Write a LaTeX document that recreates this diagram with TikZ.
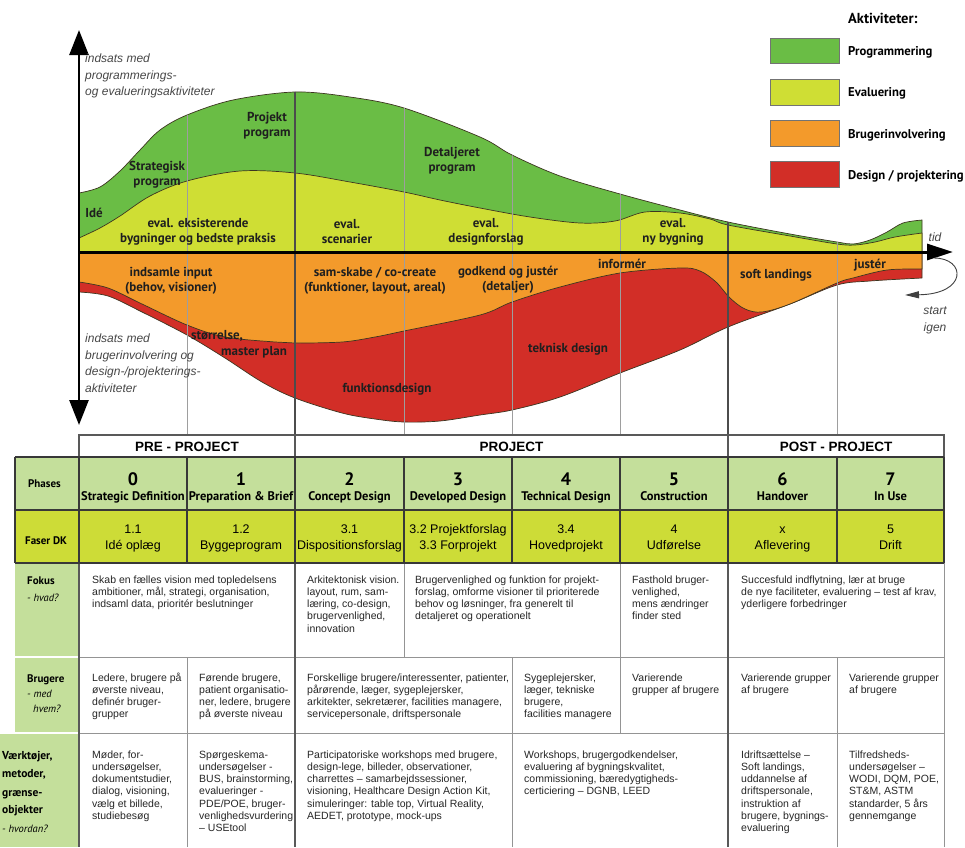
\documentclass[tikz,border=0pt]{standalone}
\usepackage{fontspec}
\setmainfont{Liberation Sans}
\newfontfamily\myriadlike{PT Sans}
\usetikzlibrary{arrows.meta}

\definecolor{progc}{HTML}{6ABD45}
\definecolor{evalc}{HTML}{CFDE34}
\definecolor{userc}{HTML}{F39A2B}
\definecolor{desc}{HTML}{D22E27}
\definecolor{phasec}{HTML}{C4DF9B}
\definecolor{faserc}{HTML}{CDDC37}
\definecolor{edgec}{HTML}{3C3520}

\newcommand\bodyfnt{\fontsize{10.5}{12.2}\selectfont}
\newcommand\lblfnt{\myriadlike\bfseries\fontsize{13}{15}\selectfont}

\tikzset{
  band/.style={draw=edgec, line width=0.7pt, line join=round},
  curvelbl/.style={font=\lblfnt, align=center, inner sep=0pt, text=black!88},
  axislbl/.style={font=\itshape\fontsize{12}{16.5}\selectfont, align=left, inner sep=0pt, anchor=north west, text=black!72},
  legbox/.style={draw=black!55, line width=0.6pt},
  leglbl/.style={font=\myriadlike\bfseries\fontsize{12.7}{14}\selectfont, anchor=base west, inner sep=0pt},
  plight/.style={draw=black!38, line width=1pt},
  pdark/.style={draw=black!70, line width=1.2pt},
  gridl/.style={draw=black!42, line width=0.9pt},
  gridd/.style={draw=black!78, line width=1.1pt},
  body/.style={anchor=north west, inner sep=0pt, align=left, font=\bodyfnt, text=black!85},
  rowhead/.style={anchor=base west, inner sep=0pt, font=\myriadlike\bfseries\fontsize{11}{12}\selectfont},
  rowsub/.style={anchor=base west, inner sep=0pt, font=\myriadlike\itshape\fontsize{10.5}{12}\selectfont},
  phnum/.style={anchor=base, inner sep=0pt, font=\myriadlike\bfseries\fontsize{18}{20}\selectfont},
  phname/.style={anchor=base, inner sep=0pt, font=\myriadlike\bfseries\fontsize{12.5}{14}\selectfont},
  dk/.style={anchor=base, inner sep=0pt, font=\fontsize{12.5}{14}\selectfont},
  stage/.style={anchor=base, inner sep=0pt, font=\bfseries\fontsize{13.5}{15}\selectfont},
}

\begin{document}
\begin{tikzpicture}[x=1pt,y=-1pt]
\useasboundingbox (0,0) rectangle (965,847);
\fill[white] (0,0) rectangle (965,847);

% ---------- activity bands ----------
% programming (top band)
\filldraw[band, fill=progc] plot[smooth, tension=0.55] coordinates {(79,193) (100,187) (120,171) (140,150) (160,130) (187,115) (233,100) (295,92) (350,97) (404,108) (480,137) (512,155) (560,176) (620,194) (680,210) (728,222) (790,234) (837,242) (853,244) (870,240) (887,232) (903,223) (922,220)} -- (922,252) -- (79,252) -- cycle;
% evaluation
\filldraw[band, fill=evalc] plot[smooth, tension=0.55] coordinates {(79,238) (100,228) (120,216) (150,196) (187,181) (240,171) (295,173) (350,182) (404,192) (440,200) (480,208) (530,217) (580,223) (615,221) (645,212) (680,213) (710,219) (728,225) (790,236) (837,244) (855,245) (875,242) (895,237) (922,233)} -- (922,252) -- (79,252) -- cycle;
% design
\filldraw[band, fill=desc] (79,252) -- plot[smooth, tension=0.55] coordinates {(79,292) (108,296) (142,312) (187,335) (225,358) (262,382) (295,398) (342,413) (375,419) (404,422) (440,421) (480,415) (512,410) (560,397) (620,373) (680,350) (728,327) (790,304) (837,285) (870,281) (922,278)} -- (922,252) -- cycle;
% user involvement
\filldraw[band, fill=userc] (79,252) -- plot[smooth, tension=0.55] coordinates {(79,282) (108,288) (142,304) (187,325) (225,337) (275,342) (295,343) (342,342) (375,337) (404,331) (480,315) (512,302) (560,287) (620,273) (680,268) (700,271) (716,282) (730,298) (745,309) (762,312) (790,304) (837,283) (853,278) (887,270) (922,269)} -- (922,252) -- cycle;

% ---------- phase separators below the top curve ----------
\begin{scope}
  \clip plot[smooth, tension=0.55] coordinates {(79,193) (100,187) (120,171) (140,150) (160,130) (187,115) (233,100) (295,92) (350,97) (404,108) (480,137) (512,155) (560,176) (620,194) (680,210) (728,222) (790,234) (837,242) (853,244) (870,240) (887,232) (903,223) (922,220)} -- (960,220) -- (960,436) -- (79,436) -- cycle;
  \foreach \px in {187,404,512,620,837} \draw[plight] (\px,80) -- (\px,436);
  \foreach \px in {295,728} \draw[pdark] (\px,80) -- (\px,436);
\end{scope}

% ---------- axes ----------
\coordinate (ytop) at (79,30);
\coordinate (ybot) at (79,425);
\coordinate (xorg) at (79,252);
\coordinate (xend) at (953,252);
\draw[line width=2.6pt, {Triangle[width=19pt,length=25pt]}-{Triangle[width=19pt,length=25pt]}] (ybot) -- (ytop);
\draw[line width=3pt, -{Triangle[width=16pt,length=26pt]}] (xorg) -- (xend);
\coordinate (restart0) at (934,258);
\coordinate (restart1) at (905,295);
\draw[line width=0.9pt, black!75, -{Triangle[width=7pt,length=14pt]}] (restart0) .. controls (966,258) and (968,294) .. (restart1);

\node[axislbl] (yup) at (85,54) {indsats med\\programmerings-\\og evalueringsaktiviteter};
\node[axislbl] (ydown) at (85,334) {indsats med\\brugerinvolvering og\\design-/projekterings-\\aktiviteter};
\node[font=\itshape\fontsize{12}{14}\selectfont, text=black!72, inner sep=0pt, anchor=base] (tid) at (935,241) {tid};
\node[font=\itshape\fontsize{12}{16.5}\selectfont, text=black!72, inner sep=0pt, align=center, anchor=north] (igen) at (935,307) {start\\igen};

% ---------- band labels ----------
\node[curvelbl] (idea) at (94,213) {Idé};
\node[curvelbl] (strat) at (157,175) {Strategisk\\program};
\node[curvelbl] (projprog) at (267,126) {Projekt\\program};
\node[curvelbl] (detprog) at (452,161) {Detaljeret\\program};
\node[curvelbl] (evalex) at (198,232) {eval. eksisterende\\bygninger og bedste praksis};
\node[curvelbl] (evalsc) at (347,232) {eval.\\scenarier};
\node[curvelbl] (evalds) at (486,232) {eval.\\designforslag};
\node[curvelbl] (evalny) at (673,232) {eval.\\ny bygning};
\node[curvelbl] (input) at (171,281) {indsamle input\\(behov, visioner)};
\node[curvelbl] (cocreate) at (375,281) {sam-skabe / co-create\\(funktioner, layout, areal)};
\node[curvelbl] (approve) at (508,280) {godkend og justér\\(detaljer)};
\node[curvelbl] (inform) at (622,264) {informér};
\node[curvelbl] (soft) at (776,275) {soft landings};
\node[curvelbl] (adjust) at (870,265) {justér};
\node[curvelbl] (size) at (217,336) {størrelse,};
\node[curvelbl] (master) at (254,352) {master plan};
\node[curvelbl] (fdesign) at (387,389) {funktionsdesign};
\node[curvelbl] (tdesign) at (568,349) {teknisk design};

% ---------- legend ----------
\node[font=\myriadlike\bfseries\fontsize{14.5}{16}\selectfont, anchor=base west, inner sep=0pt] (legtitle) at (848,23) {Aktiviteter:};
\draw[legbox, fill=progc] (770,38) rectangle (839,63);
\draw[legbox, fill=evalc] (770,79) rectangle (839,105);
\draw[legbox, fill=userc] (770,120) rectangle (839,146);
\draw[legbox, fill=desc] (770,161) rectangle (839,187);
\node[leglbl] (lprog) at (848,55) {Programmering};
\node[leglbl] (leval) at (848,96) {Evaluering};
\node[leglbl] (luser) at (848,138) {Brugerinvolvering};
\node[leglbl] (ldes) at (848,179) {Design / projektering};

% ---------- table ----------
% stage header row
\fill[white] (79,435) rectangle (944,457);
\draw[draw=black!65, line width=1.1pt] (79,435) rectangle (944,457);
\draw[draw=black!65, line width=1.1pt] (295,435) -- (295,457) (728,435) -- (728,457);
\node[stage] (pre) at (187,451) {PRE - PROJECT};
\node[stage] (proj) at (511.5,451) {PROJECT};
\node[stage] (post) at (836,451) {POST - PROJECT};

% phase rows
\fill[phasec] (15,457) rectangle (944,510);
\fill[faserc] (15,510) rectangle (944,563);
% row header column
\fill[phasec] (15,563) rectangle (79,657);
\fill[phasec] (15,657) rectangle (79,733);
\fill[phasec] (0,733) rectangle (79,847);
\draw[white, line width=1.2pt] (0,657) -- (79,657) (0,733) -- (79,733);

% body grid
\draw[gridl] (79,657) -- (944,657) (79,733) -- (944,733);
\draw[gridl] (404,563) -- (404,657) (187,657) -- (187,847) (512,657) -- (512,847)
  (620,563) -- (620,733) (837,657) -- (837,847) (944,563) -- (944,847);
\draw[draw=black!65, line width=1.2pt] (295,563) -- (295,847) (728,563) -- (728,847) (79,563) -- (79,847);

% phase grid (dark)
\draw[gridd] (15,457) -- (944,457) (15,510) -- (944,510) (15,563) -- (944,563);
\foreach \px in {15,79,187,295,404,512,620,728,837,944} \draw[gridd] (\px,457) -- (\px,563);

\node[rowhead] (hphase) at (28,487) {Phases};
\node[rowhead] (hdk) at (25,544) {Faser DK};
\node[rowhead] (hfok) at (27,584) {Fokus};
\node[rowsub] (hfok2) at (27,601) {- hvad?};
\node[rowhead] (hbru) at (27,682) {Brugere};
\node[rowsub] (hbru2) at (27,697) {- med};
\node[rowsub] (hbru3) at (33,712) {hvem?};
\node[rowhead, font=\myriadlike\bfseries\fontsize{11.5}{13}\selectfont] (hv1) at (2,759) {Værktøjer,};
\node[rowhead, font=\myriadlike\bfseries\fontsize{11.5}{13}\selectfont] (hv2) at (2,777) {metoder,};
\node[rowhead, font=\myriadlike\bfseries\fontsize{11.5}{13}\selectfont] (hv3) at (2,796) {grænse-};
\node[rowhead, font=\myriadlike\bfseries\fontsize{11.5}{13}\selectfont] (hv4) at (2,813) {objekter};
\node[rowsub] (hv5) at (2,832) {- hvordan?};

% phase numbers and names
\node[phnum] (n0) at (133,485) {0};
\node[phnum] (n1) at (241,485) {1};
\node[phnum] (n2) at (349.5,485) {2};
\node[phnum] (n3) at (458,485) {3};
\node[phnum] (n4) at (566,485) {4};
\node[phnum] (n5) at (674,485) {5};
\node[phnum] (n6) at (782.5,485) {6};
\node[phnum] (n7) at (890.5,485) {7};
\node[phname] (p0) at (133,500) {Strategic Definition};
\node[phname] (p1) at (241,500) {Preparation \& Brief};
\node[phname] (p2) at (349.5,500) {Concept Design};
\node[phname] (p3) at (458,500) {Developed Design};
\node[phname] (p4) at (566,500) {Technical Design};
\node[phname] (p5) at (674,500) {Construction};
\node[phname] (p6) at (782.5,500) {Handover};
\node[phname] (p7) at (890.5,500) {In Use};

% Danish phase codes
\node[dk] (d0a) at (133,533) {1.1};
\node[dk] (d0b) at (133,549) {Idé oplæg};
\node[dk] (d1a) at (241,533) {1.2};
\node[dk] (d1b) at (241,549) {Byggeprogram};
\node[dk] (d2a) at (349.5,533) {3.1};
\node[dk] (d2b) at (349.5,549) {Dispositionsforslag};
\node[dk] (d3a) at (458,533) {3.2 Projektforslag};
\node[dk] (d3b) at (458,549) {3.3 Forprojekt};
\node[dk] (d4a) at (566,533) {3.4};
\node[dk] (d4b) at (566,549) {Hovedprojekt};
\node[dk] (d5a) at (674,533) {4};
\node[dk] (d5b) at (674,549) {Udførelse};
\node[dk] (d6a) at (782.5,533) {x};
\node[dk] (d6b) at (782.5,549) {Aflevering};
\node[dk] (d7a) at (890.5,533) {5};
\node[dk] (d7b) at (890.5,549) {Drift};

% focus row
\node[body] (f01) at (92,574.5) {\strut Skab en fælles vision med topledelsens\\ambitioner, mål, strategi, organisation,\\indsaml data, prioritér beslutninger};
\node[body] (f2) at (307,574.5) {\strut Arkitektonisk vision.\\layout, rum, sam-\\læring, co-design,\\brugervenlighed,\\innovation};
\node[body] (f34) at (415,574.5) {\strut Brugervenlighed og funktion for projekt-\\forslag, omforme visioner til prioriterede\\behov og løsninger, fra generelt til\\detaljeret og operationelt};
\node[body] (f5) at (632,574.5) {\strut Fasthold bruger-\\venlighed,\\mens ændringer\\finder sted};
\node[body] (f67) at (741,574.5) {\strut Succesfuld indflytning, lær at bruge\\de nye faciliteter, evaluering – test af krav,\\yderligere forbedringer};

% users row
\node[body] (u0) at (92,672.5) {\strut Ledere, brugere på\\øverste niveau,\\definér bruger-\\grupper};
\node[body] (u1) at (199,672.5) {\strut Førende brugere,\\patient organisatio-\\ner, ledere, brugere\\på øverste niveau};
\node[body] (u23) at (307,672.5) {\strut Forskellige brugere/interessenter, patienter,\\pårørende, læger, sygeplejersker,\\arkitekter, sekretærer, facilities managere,\\servicepersonale, driftspersonale};
\node[body] (u4) at (524,672.5) {\strut Sygeplejersker,\\læger, tekniske\\brugere,\\facilities managere};
\node[body] (u5) at (632,672.5) {\strut Varierende\\grupper af brugere};
\node[body] (u6) at (741,672.5) {\strut Varierende grupper\\af brugere};
\node[body] (u7) at (849,672.5) {\strut Varierende grupper\\af brugere};

% tools row
\node[body] (t0) at (92,749.5) {\strut Møder, for-\\undersøgelser,\\dokumentstudier,\\dialog, visioning,\\vælg et billede,\\studiebesøg};
\node[body] (t1) at (199,749.5) {\strut Spørgeskema-\\undersøgelser -\\BUS, brainstorming,\\evalueringer -\\PDE/POE, bruger-\\venlighedsvurdering\\ – USEtool};
\node[body] (t23) at (307,749.5) {\strut Participatoriske workshops med brugere,\\design-lege, billeder, observationer,\\charrettes – samarbejdssessioner,\\visioning, Healthcare Design Action Kit,\\simuleringer: table top, Virtual Reality,\\AEDET, prototype, mock-ups};
\node[body] (t45) at (524,749.5) {\strut Workshops, brugergodkendelser,\\evaluering af bygningskvalitet,\\commissioning, bæredygtigheds-\\certiciering – DGNB, LEED};
\node[body] (t6) at (741,749.5) {\strut Idriftsættelse –\\Soft landings,\\uddannelse af\\driftspersonale,\\instruktion af\\brugere, bygnings-\\evaluering};
\node[body] (t7) at (849,749.5) {\strut Tilfredsheds-\\undersøgelser –\\WODI, DQM, POE,\\ST\&M, ASTM\\standarder, 5 års\\gennemgange};
\end{tikzpicture}
\end{document}
